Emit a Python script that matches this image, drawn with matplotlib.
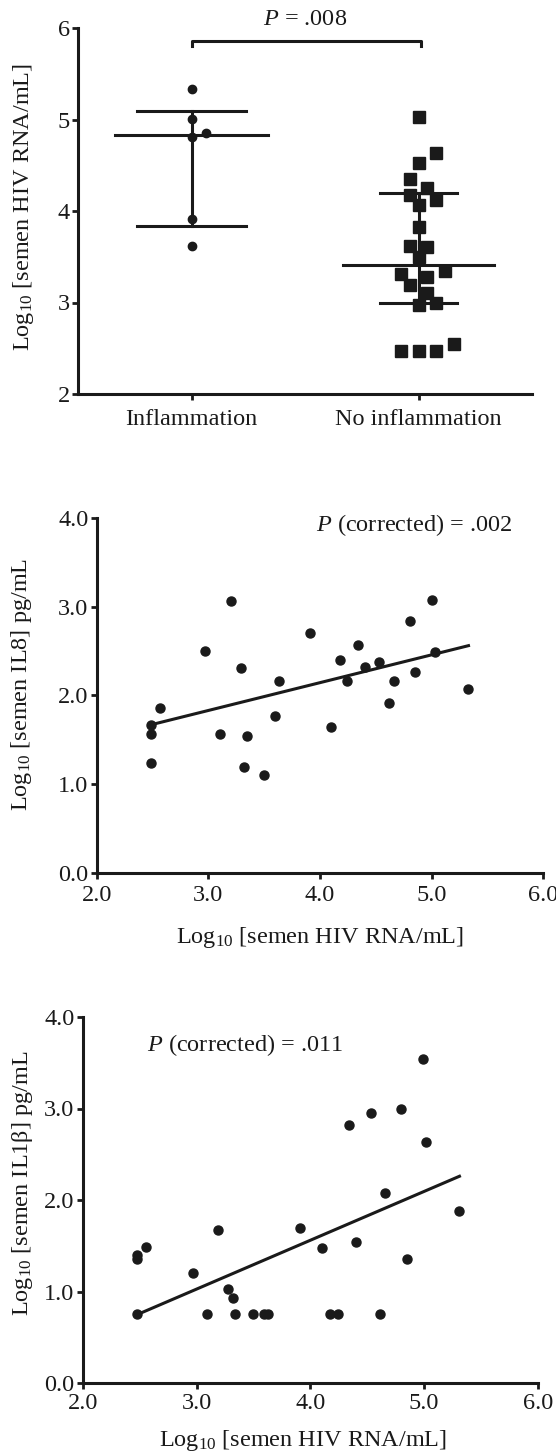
import numpy as np
import matplotlib
matplotlib.use("Agg")
import matplotlib.pyplot as plt

plt.rcParams['font.family'] = 'Liberation Serif'
plt.rcParams['mathtext.fontset'] = 'custom'
plt.rcParams['mathtext.rm'] = 'Liberation Serif'
plt.rcParams['mathtext.it'] = 'Liberation Serif:italic'
plt.rcParams['font.size'] = 17.5

ink = '#1a1a1a'

# panel A: semen HIV RNA by group
groups = ['Inflammation', 'No inflammation']
hiv_inflam = [5.33, 5.01, 4.85, 4.81, 3.91, 3.62]
hiv_no_inflam = [5.03, 4.63, 4.53, 4.35, 4.25, 4.18, 4.12, 4.07, 3.83, 3.62, 3.61,
                 3.50, 3.34, 3.31, 3.28, 3.19, 3.10, 2.99, 2.97, 2.55, 2.47, 2.47, 2.47]
medians = [4.83, 3.41]
q1 = [3.84, 2.99]
q3 = [5.09, 4.20]
p_group = '.008'

# panel B: IL8 vs HIV RNA
il8_hiv = [2.49, 2.49, 2.49, 2.57, 2.97, 3.10, 3.20, 3.29, 3.35, 3.32, 3.50, 3.60, 3.63,
           3.91, 4.10, 4.18, 4.24, 4.34, 4.40, 4.53, 4.62, 4.66, 4.81, 4.85, 5.00, 5.03, 5.33]
il8 = [1.67, 1.57, 1.24, 1.86, 2.50, 1.57, 3.07, 2.31, 1.54, 1.19, 1.10, 1.77, 2.16,
       2.70, 1.65, 2.40, 2.16, 2.57, 2.32, 2.38, 1.92, 2.16, 2.84, 2.26, 3.08, 2.49, 2.07]
il8_fit = (0.314, 0.889)   # slope, intercept
p_il8 = '.002'

# panel C: IL1b vs HIV RNA
il1b_hiv = [2.48, 2.48, 2.48, 2.56, 2.97, 3.09, 3.19, 3.28, 3.32, 3.34, 3.50, 3.59, 3.63,
            3.91, 4.10, 4.17, 4.24, 4.34, 4.40, 4.53, 4.61, 4.66, 4.80, 4.85, 4.99, 5.02, 5.31]
il1b = [1.40, 1.35, 0.75, 1.49, 1.20, 0.75, 1.67, 1.03, 0.93, 0.75, 0.75, 0.75, 0.75,
        1.69, 1.48, 0.75, 0.75, 2.82, 1.54, 2.95, 0.75, 2.08, 3.00, 1.36, 3.54, 2.63, 1.88]
il1b_fit = (0.534, -0.576)
p_il1b = '.011'

W, H = 556, 1453
fig = plt.figure(figsize=(W / 100, H / 100), dpi=100)


def axes_px(left, top, right, bottom):
    return fig.add_axes([left / W, 1 - bottom / H, (right - left) / W, (bottom - top) / H])


def style(ax):
    for s in ['top', 'right']:
        ax.spines[s].set_visible(False)
    for s in ['left', 'bottom']:
        ax.spines[s].set_linewidth(2.2)
        ax.spines[s].set_color(ink)
    ax.tick_params(direction='out', length=4, width=2, pad=2, colors=ink, labelcolor=ink)
    ax.tick_params(axis='x', pad=5)


def swarm(ax, xc, values, step_px, min_px):
    # simple beeswarm in pixel space, right side tried first
    pts = ax.transData.transform(np.column_stack([np.full(len(values), xc), values]))
    ypx = pts[:, 1]
    unit = ax.transData.transform((1, 0))[0] - ax.transData.transform((0, 0))[0]
    cand = [0] + [s * j for j in range(1, 12) for s in (1, -1)]
    placed = []
    offs = np.zeros(len(values))
    for i in np.argsort(values):
        for c in cand:
            ox = c * step_px / 2
            if all((ox - px) ** 2 + (ypx[i] - py) ** 2 >= min_px ** 2 for px, py in placed):
                break
        placed.append((ox, ypx[i]))
        offs[i] = ox / unit
    return xc + offs


# ---- panel A
ax1 = axes_px(78, 28, 532, 394)
style(ax1)
ax1.set_xlim(-0.5, 1.5)
ax1.set_ylim(2, 6)
ax1.set_yticks([2, 3, 4, 5, 6])
ax1.set_xticks([0, 1])
ax1.set_xticklabels(groups)
ax1.tick_params(axis='x', pad=7)

xs = swarm(ax1, 0, np.array(hiv_inflam), 14, 9)
ax1.plot(xs, hiv_inflam, 'o', color=ink, ms=6, zorder=3)
xs = swarm(ax1, 1, np.array(hiv_no_inflam), 17.5, 13)
ax1.plot(xs, hiv_no_inflam, 's', color=ink, ms=9, zorder=3)

med_half = [0.335, 0.333]
iqr_half = [0.24, 0.17]
for i in range(2):
    ax1.plot([i, i], [q1[i], q3[i]], color=ink, lw=2.2)
    ax1.plot([i - med_half[i], i + med_half[i]], [medians[i]] * 2, color=ink, lw=2.2)
    ax1.plot([i - iqr_half[i], i + iqr_half[i]], [q1[i]] * 2, color=ink, lw=2.2)
    ax1.plot([i - iqr_half[i], i + iqr_half[i]], [q3[i]] * 2, color=ink, lw=2.2)

ax1.plot([0, 0, 1.01, 1.01], [5.80, 5.86, 5.86, 5.80], color=ink, lw=2.2, clip_on=False)
ax1.text(0.5, 6.09, '$P$ = ' + p_group, ha='center', va='center', color=ink)
ax1.set_ylabel('Log$_{10}$ [semen HIV RNA/mL]', color=ink)
ax1.yaxis.set_label_coords(-0.119, 0.512)
ax1.yaxis.label.set_va('center')

# ---- panel B
ax2 = axes_px(96.7, 518.3, 543.3, 872.7)
style(ax2)
ax2.set_xlim(2, 6)
ax2.set_ylim(0, 4)
ax2.set_xticks([2, 3, 4, 5, 6])
ax2.set_yticks([0, 1, 2, 3, 4])
ax2.xaxis.set_major_formatter('{x:.1f}')
ax2.yaxis.set_major_formatter('{x:.1f}')
ax2.plot(il8_hiv, il8, 'o', color=ink, ms=6.5, clip_on=False)
xf = np.array([min(il8_hiv), max(il8_hiv)])
ax2.plot(xf, il8_fit[0] * xf + il8_fit[1], color=ink, lw=2.2)
ax2.text(5.72, 3.92, '$P$ (corrected) = ' + p_il8, ha='right', va='center', color=ink)
ax2.set_ylabel('Log$_{10}$ [semen IL8] pg/mL', color=ink)
ax2.yaxis.set_label_coords(-0.169, 0.53)
ax2.yaxis.label.set_va('center')
ax2.set_xlabel('Log$_{10}$ [semen HIV RNA/mL]', color=ink)
ax2.xaxis.set_label_coords(0.5, -0.184)
ax2.xaxis.label.set_va('center')

# ---- panel C
ax3 = axes_px(82.7, 1017, 538, 1383)
style(ax3)
ax3.set_xlim(2, 6)
ax3.set_ylim(0, 4)
ax3.set_xticks([2, 3, 4, 5, 6])
ax3.set_yticks([0, 1, 2, 3, 4])
ax3.xaxis.set_major_formatter('{x:.1f}')
ax3.yaxis.set_major_formatter('{x:.1f}')
ax3.tick_params(axis='x', pad=3)
ax3.plot(il1b_hiv, il1b, 'o', color=ink, ms=6.5, clip_on=False)
xf = np.array([min(il1b_hiv), max(il1b_hiv)])
ax3.plot(xf, il1b_fit[0] * xf + il1b_fit[1], color=ink, lw=2.2)
ax3.text(2.565, 3.69, '$P$ (corrected) = ' + p_il1b, ha='left', va='center', color=ink)
ax3.set_ylabel('Log$_{10}$ [semen IL1β] pg/mL', color=ink)
ax3.yaxis.set_label_coords(-0.133, 0.546)
ax3.yaxis.label.set_va('center')
ax3.set_xlabel('Log$_{10}$ [semen HIV RNA/mL]', color=ink)
ax3.xaxis.set_label_coords(0.483, -0.156)
ax3.xaxis.label.set_va('center')

fig.savefig('out.png', dpi=100)
